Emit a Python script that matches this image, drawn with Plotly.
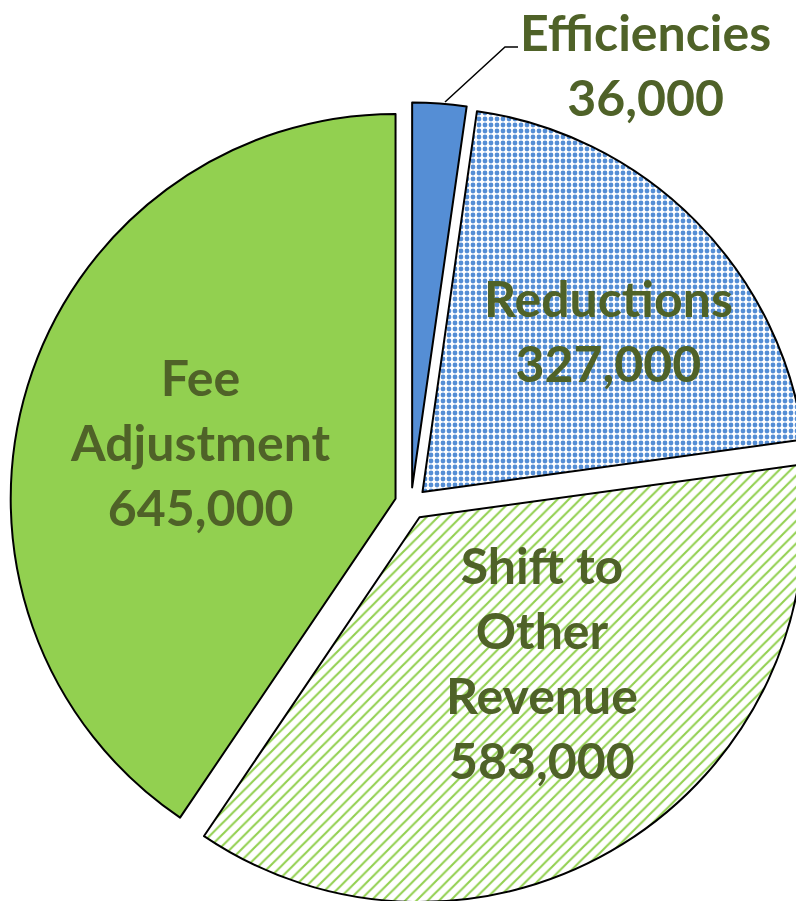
import plotly.graph_objects as go

categories = ["Efficiencies", "Reductions", "Shift to Other Revenue", "Fee Adjustment"]
label_lines = ["Efficiencies", "Reductions", "Shift to<br>Other<br>Revenue", "Fee<br>Adjustment"]
values = [36000, 327000, 583000, 645000]

BLUE = "#558ED5"
GREEN = "#92D050"
TEXT = "#4F6228"

W, H = 804, 901
OFF = 8  # page body margin offset

def px(x):
    return (x - OFF) / W

def py(y):
    return 1 - (y - OFF) / H

fig = go.Figure(go.Pie(
    labels=categories,
    values=values,
    sort=False,
    direction="clockwise",
    rotation=0,
    pull=[0.042] * 4,
    textinfo="none",
    hoverinfo="label+value",
    marker=dict(
        colors=[BLUE, BLUE, GREEN, GREEN],
        line=dict(color="black", width=2),
        pattern=dict(
            shape=["", ".", "/", ""],
            fgcolor=[BLUE, BLUE, GREEN, GREEN],
            bgcolor=["white", "white", "white", "white"],
            size=[5, 6, 8, 5],
            solidity=[0.5, 0.5, 0.26, 0.5],
            fillmode="replace",
        ),
    ),
    domain=dict(x=[px(10), px(812)], y=[py(904.5), py(102.5)]),
    showlegend=False,
))

# label positions (pixel centers of each text block in the page)
label_pos = [(645, 64), (608, 331), (542, 662), (200, 442)]
for name, val, (lx, ly) in zip(label_lines, values, label_pos):
    fig.add_annotation(
        x=px(lx), y=py(ly), xref="paper", yref="paper",
        text=f"{name}<br>{val:,}",
        showarrow=False, xanchor="center", yanchor="middle",
        font=dict(family="Lato", size=50, color=TEXT, weight="bold"),
        align="center",
    )

# leader line for Efficiencies
fig.add_shape(
    type="path", xref="paper", yref="paper",
    path=f"M {px(445)},{py(102)} L {px(505)},{py(47)} L {px(518)},{py(47)}",
    line=dict(color="black", width=1.5),
)

fig.update_layout(
    width=W, height=H,
    margin=dict(l=0, r=0, t=0, b=0),
    paper_bgcolor="white",
    plot_bgcolor="white",
)

fig.write_html("out.html")
